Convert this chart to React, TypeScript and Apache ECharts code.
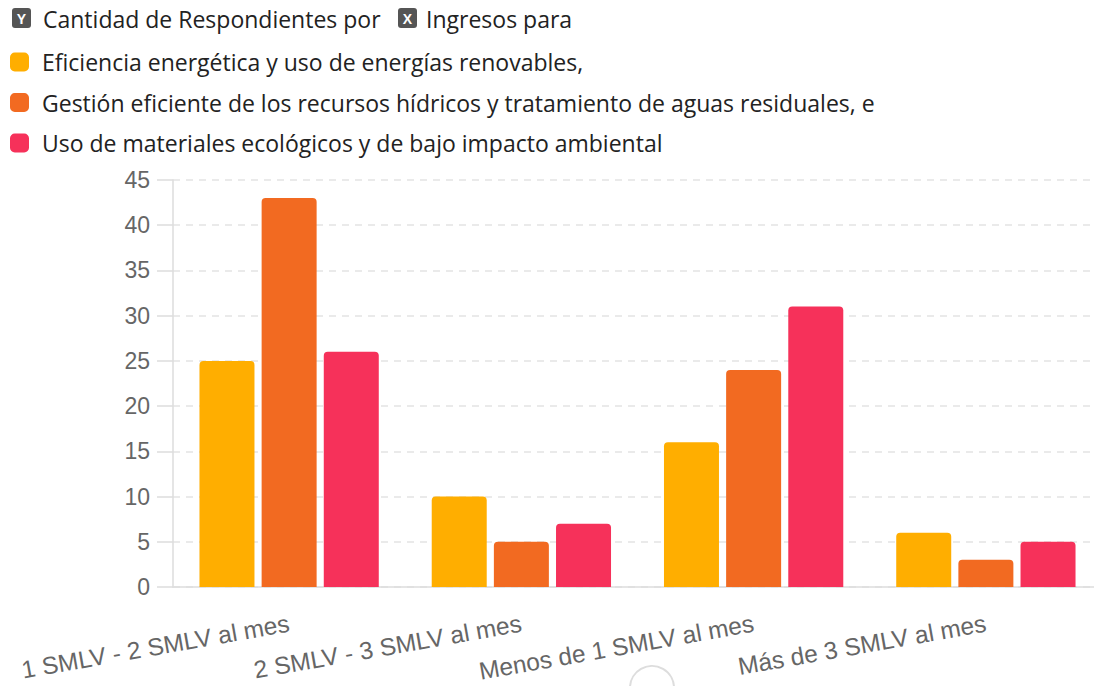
import React, { useEffect, useRef } from "react";
import * as echarts from "echarts";

// Income brackets (x axis)
const categories = [
  "1 SMLV - 2 SMLV al mes",
  "2 SMLV - 3 SMLV al mes",
  "Menos de 1 SMLV al mes",
  "Más de 3 SMLV al mes",
];

// Respondents per sustainability priority
const seriesNames = [
  "Eficiencia energética y uso de energías renovables,",
  "Gestión eficiente de los recursos hídricos y tratamiento de aguas residuales, e",
  "Uso de materiales ecológicos y de bajo impacto ambiental",
];
const energia = [25, 10, 16, 6];
const agua = [43, 5, 24, 3];
const materiales = [26, 7, 31, 5];

const seriesColors = ["#FFAE00", "#F26A21", "#F6315A"];

// Header: axis badges and their captions
const yBadge = "Y";
const yCaption = "Cantidad de Respondientes por";
const xBadge = "X";
const xCaption = "Ingresos para";

// Y axis range
const yMin = 0;
const yMax = 45;
const yStep = 5;

export default function App() {
  const ref = useRef<HTMLDivElement>(null);

  useEffect(() => {
    if (!ref.current) return;
    const chart = echarts.init(ref.current, null, { renderer: "svg" });
    const values = [energia, agua, materiales];
    const labelFont = "'Liberation Sans', Arial, sans-serif";
    const uiFont = "'Open Sans', 'Noto Sans', sans-serif";

    const badge = (x: number, letter: string) => ({
      type: "group",
      x,
      y: 8,
      children: [
        {
          type: "rect",
          shape: { x: 0, y: 0, width: 19, height: 20, r: 3 },
          style: { fill: "#555555" },
        },
        {
          type: "text",
          x: 9.5,
          y: 10.5,
          style: {
            text: letter,
            fontFamily: labelFont,
            fontWeight: "bold",
            fontSize: 14,
            fill: "#ffffff",
            align: "center",
            verticalAlign: "middle",
          },
        },
      ],
    });
    const caption = (x: number, text: string) => ({
      type: "text",
      x,
      y: 19,
      style: {
        text,
        fontFamily: uiFont,
        fontSize: 23,
        fill: "#222222",
        align: "left",
        verticalAlign: "middle",
      },
    });

    chart.setOption({
      animation: false,
      backgroundColor: "#ffffff",
      legend: {
        orient: "vertical",
        left: 5,
        top: 44,
        itemWidth: 19,
        itemHeight: 19,
        itemGap: 14.5,
        icon: "roundRect",
        selectedMode: false,
        textStyle: {
          fontFamily: uiFont,
          fontSize: 23,
          color: "#222",
          lineHeight: 26,
          padding: [0, 0, 0, 8],
        },
        data: seriesNames,
      },
      grid: {
        left: 173,
        right: 0,
        top: 180,
        bottom: 99,
        containLabel: false,
      },
      xAxis: {
        type: "category",
        data: categories,
        axisLine: { show: true, lineStyle: { color: "#dddddd", width: 1.5 } },
        axisTick: { show: false },
        axisLabel: {
          rotate: 10,
          margin: 36,
          interval: 0,
          fontFamily: labelFont,
          fontSize: 24.5,
          color: "#666666",
        },
      },
      yAxis: {
        type: "value",
        min: yMin,
        max: yMax,
        interval: yStep,
        axisLine: { show: true, lineStyle: { color: "#dddddd", width: 1.5 } },
        axisTick: { show: true, length: 16, lineStyle: { color: "#dddddd", width: 1.5 } },
        axisLabel: {
          margin: 23,
          fontFamily: labelFont,
          fontSize: 23,
          color: "#666666",
        },
        splitLine: {
          show: true,
          lineStyle: { color: "#e3e3e3", width: 1.5, type: [7, 6] },
        },
      },
      series: seriesNames.map((name, i) => ({
        name,
        type: "bar",
        data: values[i],
        barWidth: 55,
        barGap: "13%",
        itemStyle: { color: seriesColors[i], borderRadius: [4, 4, 0, 0] },
      })),
      graphic: [
        badge(12, yBadge),
        caption(43, yCaption),
        badge(398, xBadge),
        caption(426, xCaption),
        {
          type: "circle",
          shape: { cx: 652, cy: 688, r: 22 },
          style: { fill: "none", stroke: "#dddddd", lineWidth: 2 },
        },
      ],
    });

    return () => chart.dispose();
  }, []);

  // The plot runs a few pixels past the visible right edge, so the chart
  // surface is wider than its clipping frame.
  return (
    <div
      style={{
        position: "absolute",
        left: 0,
        top: 0,
        width: 1094,
        height: 686,
        overflow: "hidden",
      }}
    >
      <div ref={ref} style={{ width: 1102, height: 686 }} />
    </div>
  );
}
